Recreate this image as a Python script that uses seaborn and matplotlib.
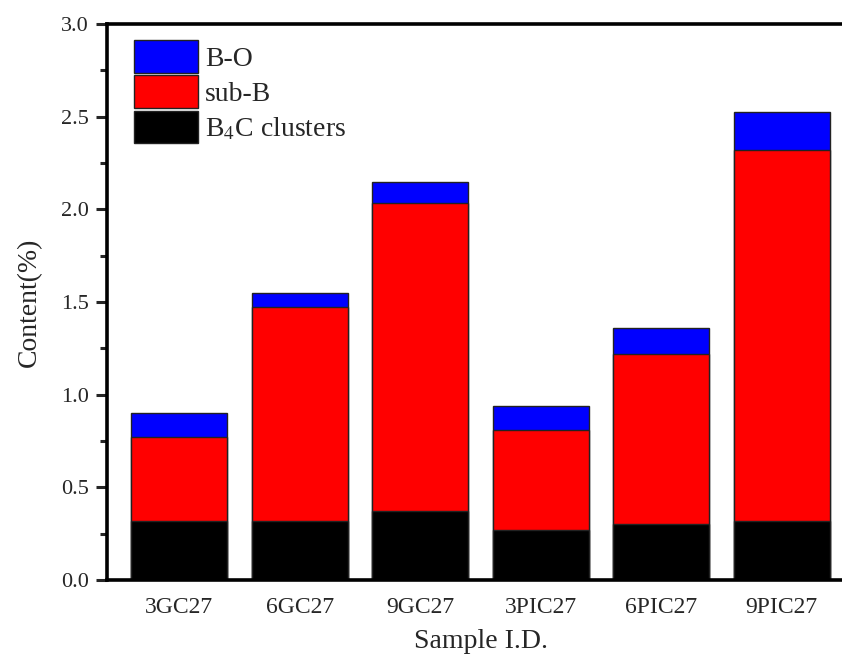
import numpy as np
import pandas as pd
import matplotlib
matplotlib.use("Agg")
import matplotlib.pyplot as plt
import seaborn as sns
from matplotlib.patches import Patch
from matplotlib.ticker import MultipleLocator

samples = ["3GC27", "6GC27", "9GC27", "3PIC27", "6PIC27", "9PIC27"]
b4c_clusters = [0.32, 0.32, 0.37, 0.27, 0.30, 0.32]
sub_b = [0.45, 1.155, 1.665, 0.54, 0.92, 2.00]
b_o = [0.13, 0.075, 0.115, 0.13, 0.14, 0.205]

sns.set_theme(style="ticks")
plt.rcParams["font.family"] = ["Liberation Serif", "DejaVu Serif"]
plt.rcParams["mathtext.fontset"] = "stix"

df = pd.DataFrame({"sample": samples, "B4C": b4c_clusters, "subB": sub_b, "BO": b_o})
df["lvl1"] = df["B4C"]
df["lvl2"] = df["B4C"] + df["subB"]
df["lvl3"] = df["lvl2"] + df["BO"]

fig = plt.figure(figsize=(8.42, 6.57), dpi=100)
ax = fig.add_axes([107 / 842, 77 / 657, (854 - 107) / 842, (580 - 24) / 657])

for col, color in [("lvl3", "#0000ff"), ("lvl2", "#ff0000"), ("lvl1", "#000000")]:
    sns.barplot(data=df, x="sample", y=col, color=color, saturation=1,
                width=0.8, edgecolor="#222222", linewidth=1.0, ax=ax)

ax.set_xlim(-0.6, 5.6)
ax.set_ylim(0, 3.0)
ax.yaxis.set_major_locator(MultipleLocator(0.5))
ax.yaxis.set_minor_locator(MultipleLocator(0.25))
ax.yaxis.set_major_formatter(matplotlib.ticker.FormatStrFormatter("%.1f"))
ax.tick_params(axis="y", which="major", direction="out", length=8, width=2.2, labelsize=16, pad=5)
ax.tick_params(axis="y", which="minor", direction="out", length=5, width=2.2)
ax.tick_params(axis="x", which="both", length=0, labelsize=17, pad=12)

for side in ["left", "bottom", "top"]:
    ax.spines[side].set_linewidth(2.6)
    ax.spines[side].set_color("black")
ax.spines["right"].set_visible(False)

ax.set_xlabel("Sample I.D.", fontsize=20, labelpad=8)
ax.set_ylabel("Content(%)", fontsize=20, labelpad=14)

handles = [
    Patch(facecolor="#0000ff", edgecolor="#222222", linewidth=1.0, label="B-O"),
    Patch(facecolor="#ff0000", edgecolor="#222222", linewidth=1.0, label="sub-B"),
    Patch(facecolor="#000000", edgecolor="#222222", linewidth=1.0, label=r"B$_4$C clusters"),
]
leg = ax.legend(handles=handles, loc="upper left", bbox_to_anchor=(0.036, 0.971),
                frameon=False, fontsize=20, handlelength=2.3, handleheight=1.42,
                labelspacing=0.1, handletextpad=0.25, borderaxespad=0.0, borderpad=0.0)

fig.savefig("out.png", dpi=100)
